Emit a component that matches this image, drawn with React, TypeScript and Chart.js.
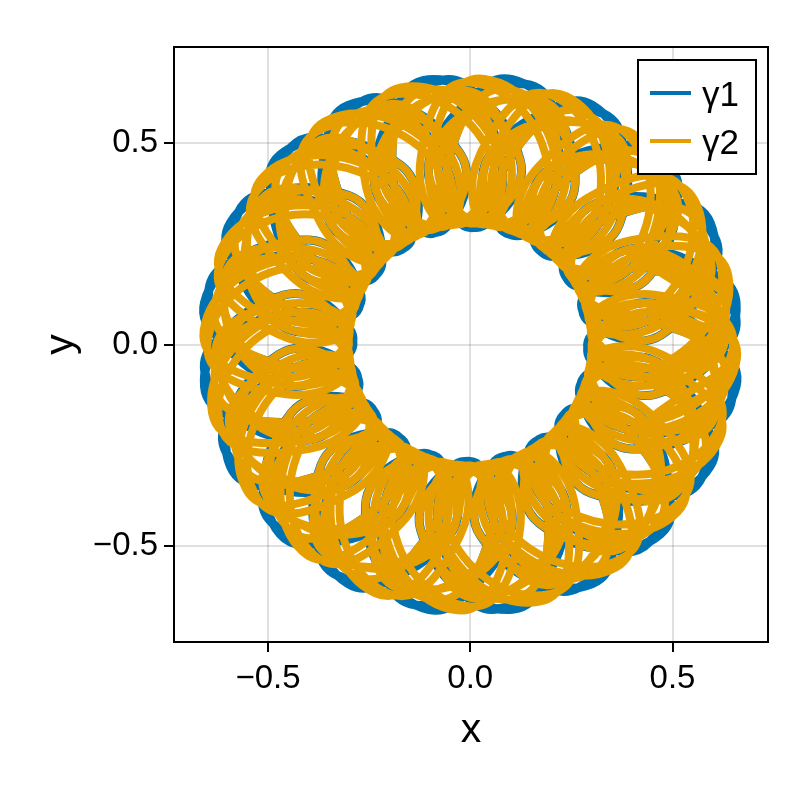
import React, { useEffect, useRef } from "react";
import { Chart, registerables } from "chart.js";

Chart.register(...registerables);

const tickValues = [-0.5, 0, 0.5];
const tickLabels = ["−0.5", "0.0", "0.5"];
const seriesNames = ["γ1", "γ2"];
const seriesColors = ["#0072b2", "#e69f00"];

const gamma1: any[][] = [
  [.459,-.123],
  [.657,.104],[.434,.193],[.276,.090],[.474,.025],[.593,.302],[.353,.318],[.235,.170],[.443,.170],
  [.470,.470],[.238,.411],[.170,.235],[.369,.299],[.302,.593],[.099,.465],[.090,.276],[.259,.398],
  [.104,.657],[-.050,.472],[0,.290],[.123,.459],[-.104,.657],[-.193,.434],[-.090,.276],[-.025,.474],
  [-.302,.593],[-.318,.353],[-.170,.235],[-.170,.443],[-.470,.470],[-.411,.238],[-.235,.170],[-.299,.369],
  [-.593,.302],[-.465,.099],[-.276,.090],[-.398,.259],[-.657,.104],[-.472,-.050],[-.290,0],[-.459,.123],
  [-.657,-.104],[-.434,-.193],[-.276,-.090],[-.474,-.025],[-.593,-.302],[-.353,-.318],[-.235,-.170],[-.443,-.170],
  [-.470,-.470],[-.238,-.411],[-.170,-.235],[-.369,-.299],[-.302,-.593],[-.099,-.465],[-.090,-.276],[-.259,-.398],
  [-.104,-.657],[.050,-.472],[0,-.290],[-.123,-.459],[.104,-.657],[.193,-.434],[.090,-.276],[.025,-.474],
  [.302,-.593],[.318,-.353],[.170,-.235],[.170,-.443],[.470,-.470],[.411,-.238],[.235,-.170],[.299,-.369],
  [.593,-.302],[.465,-.099],[.276,-.090],[.398,-.259],[.657,-.104],[.472,.050],[.290,0],[.459,-.123],
  [.657,.104],[.434,.193],[null,null],
  [.411,.238],
  [.656,.069],[.469,-.074],[.290,-.015],[.465,.099],[.646,-.137],[.423,-.216],[.271,-.104],[.472,-.050],
  [.572,-.330],[.336,-.336],[.225,-.182],[.434,-.193],[.442,-.490],[.216,-.423],[.158,-.243],[.353,-.318],
  [.268,-.603],[.074,-.469],[.075,-.280],[.238,-.411],[.069,-.656],[-.074,-.469],[-.015,-.290],[.099,-.465],
  [-.137,-.646],[-.216,-.423],[-.104,-.271],[-.050,-.472],[-.330,-.572],[-.336,-.336],[-.182,-.225],[-.193,-.434],
  [-.490,-.442],[-.423,-.216],[-.243,-.158],[-.318,-.353],[-.603,-.268],[-.469,-.074],[-.280,-.075],[-.411,-.238],
  [-.656,-.069],[-.469,.074],[-.290,.015],[-.465,-.099],[-.646,.137],[-.423,.216],[-.271,.104],[-.472,.050],
  [-.572,.330],[-.336,.336],[-.225,.182],[-.434,.193],[-.442,.490],[-.216,.423],[-.158,.243],[-.353,.318],
  [-.268,.603],[-.074,.469],[-.075,.280],[-.238,.411],[-.069,.656],[.074,.469],[.015,.290],[-.099,.465],
  [.137,.646],[.216,.423],[.104,.271],[.050,.472],[.330,.572],[.336,.336],[.182,.225],[.193,.434],
  [.490,.442],[.423,.216],[.243,.158],[.318,.353],[.603,.268],[.469,.074],[.280,.075],[.411,.238],
  [.656,.069],[.469,-.074],
];

const gamma2: any[][] = [
  [.434,-.193],
  [.650,0],[.459,.123],[.296,.047],[.472,-.050],[.618,.201],[.398,.259],[.267,.136],[.465,.099],
  [.526,.382],[.299,.369],[.212,.212],[.411,.238],[.382,.526],[.170,.443],[.136,.267],[.318,.353],
  [.201,.618],[.025,.474],[.047,.296],[.193,.434],[0,.650],[-.123,.459],[-.047,.296],[.050,.472],
  [-.201,.618],[-.259,.398],[-.136,.267],[-.099,.465],[-.382,.526],[-.369,.299],[-.212,.212],[-.238,.411],
  [-.526,.382],[-.443,.170],[-.267,.136],[-.353,.318],[-.618,.201],[-.474,.025],[-.296,.047],[-.434,.193],
  [-.650,0],[-.459,-.123],[-.296,-.047],[-.472,.050],[-.618,-.201],[-.398,-.259],[-.267,-.136],[-.465,-.099],
  [-.526,-.382],[-.299,-.369],[-.212,-.212],[-.411,-.238],[-.382,-.526],[-.170,-.443],[-.136,-.267],[-.318,-.353],
  [-.201,-.618],[-.025,-.474],[-.047,-.296],[-.193,-.434],[0,-.650],[.123,-.459],[.047,-.296],[-.050,-.472],
  [.201,-.618],[.259,-.398],[.136,-.267],[.099,-.465],[.382,-.526],[.369,-.299],[.212,-.212],[.238,-.411],
  [.526,-.382],[.443,-.170],[.267,-.136],[.353,-.318],[.618,-.201],[.474,-.025],[.296,-.047],[.434,-.193],
  [.650,0],[.459,.123],[null,null],
  [.423,.216],
  [.629,.033],[.465,-.099],[.298,-.031],[.469,.074],[.609,-.163],[.411,-.238],[.274,-.122],[.469,-.074],
  [.528,-.343],[.318,-.353],[.223,-.201],[.423,-.216],[.396,-.490],[.193,-.434],[.150,-.260],[.336,-.336],
  [.226,-.588],[.050,-.472],[.062,-.293],[.216,-.423],[.033,-.629],[-.099,-.465],[-.031,-.298],[.074,-.469],
  [-.163,-.609],[-.238,-.411],[-.122,-.274],[-.074,-.469],[-.343,-.528],[-.353,-.318],[-.201,-.223],[-.216,-.423],
  [-.490,-.396],[-.434,-.193],[-.260,-.150],[-.336,-.336],[-.588,-.226],[-.472,-.050],[-.293,-.062],[-.423,-.216],
  [-.629,-.033],[-.465,.099],[-.298,.031],[-.469,-.074],[-.609,.163],[-.411,.238],[-.274,.122],[-.469,.074],
  [-.528,.343],[-.318,.353],[-.223,.201],[-.423,.216],[-.396,.490],[-.193,.434],[-.150,.260],[-.336,.336],
  [-.226,.588],[-.050,.472],[-.062,.293],[-.216,.423],[-.033,.629],[.099,.465],[.031,.298],[-.074,.469],
  [.163,.609],[.238,.411],[.122,.274],[.074,.469],[.343,.528],[.353,.318],[.201,.223],[.216,.423],
  [.490,.396],[.434,.193],[.260,.150],[.336,.336],[.588,.226],[.472,.050],[.293,.062],[.423,.216],
  [.629,.033],[.465,-.099],[null,null],
  [.423,-.216],
  [.659,-.035],[.465,.099],[.298,.031],[.469,-.074],[.638,.171],[.411,.238],[.274,.122],[.469,.074],
  [.554,.359],[.318,.353],[.223,.201],[.423,.216],[.415,.513],[.193,.434],[.150,.260],[.336,.336],
  [.237,.616],[.050,.472],[.062,.293],[.216,.423],[.035,.659],[-.099,.465],[-.031,.298],[.074,.469],
  [-.171,.638],[-.238,.411],[-.122,.274],[-.074,.469],[-.359,.554],[-.353,.318],[-.201,.223],[-.216,.423],
  [-.513,.415],[-.434,.193],[-.260,.150],[-.336,.336],[-.616,.237],[-.472,.050],[-.293,.062],[-.423,.216],
  [-.659,.035],[-.465,-.099],[-.298,-.031],[-.469,.074],[-.638,-.171],[-.411,-.238],[-.274,-.122],[-.469,-.074],
  [-.554,-.359],[-.318,-.353],[-.223,-.201],[-.423,-.216],[-.415,-.513],[-.193,-.434],[-.150,-.260],[-.336,-.336],
  [-.237,-.616],[-.050,-.472],[-.062,-.293],[-.216,-.423],[-.035,-.659],[.099,-.465],[.031,-.298],[-.074,-.469],
  [.171,-.638],[.238,-.411],[.122,-.274],[.074,-.469],[.359,-.554],[.353,-.318],[.201,-.223],[.216,-.423],
  [.513,-.415],[.434,-.193],[.260,-.150],[.336,-.336],[.616,-.237],[.472,-.050],[.293,-.062],[.423,-.216],
  [.659,-.035],[.465,.099],[null,null],
  [.459,-.123],
  [.632,.100],[.434,.193],[.285,.093],[.474,.025],[.570,.291],[.353,.318],[.243,.176],[.443,.170],
  [.453,.453],[.238,.411],[.176,.243],[.369,.299],[.291,.570],[.099,.465],[.093,.285],[.259,.398],
  [.100,.632],[-.050,.472],[0,.300],[.123,.459],[-.100,.632],[-.193,.434],[-.093,.285],[-.025,.474],
  [-.291,.570],[-.318,.353],[-.176,.243],[-.170,.443],[-.453,.453],[-.411,.238],[-.243,.176],[-.299,.369],
  [-.570,.291],[-.465,.099],[-.285,.093],[-.398,.259],[-.632,.100],[-.472,-.050],[-.300,0],[-.459,.123],
  [-.632,-.100],[-.434,-.193],[-.285,-.093],[-.474,-.025],[-.570,-.291],[-.353,-.318],[-.243,-.176],[-.443,-.170],
  [-.453,-.453],[-.238,-.411],[-.176,-.243],[-.369,-.299],[-.291,-.570],[-.099,-.465],[-.093,-.285],[-.259,-.398],
  [-.100,-.632],[.050,-.472],[0,-.300],[-.123,-.459],[.100,-.632],[.193,-.434],[.093,-.285],[.025,-.474],
  [.291,-.570],[.318,-.353],[.176,-.243],[.170,-.443],[.453,-.453],[.411,-.238],[.243,-.176],[.299,-.369],
  [.570,-.291],[.465,-.099],[.285,-.093],[.398,-.259],[.632,-.100],[.472,.050],[.300,0],[.459,-.123],
  [.632,.100],[.434,.193],[null,null],
  [.411,.238],
  [.617,.065],[.469,-.074],[.300,-.016],[.465,.099],[.606,-.129],[.423,-.216],[.280,-.108],[.472,-.050],
  [.537,-.310],[.336,-.336],[.233,-.189],[.434,-.193],[.415,-.461],[.216,-.423],[.163,-.252],[.353,-.318],
  [.252,-.566],[.074,-.469],[.078,-.290],[.238,-.411],[.065,-.617],[-.074,-.469],[-.016,-.300],[.099,-.465],
  [-.129,-.606],[-.216,-.423],[-.108,-.280],[-.050,-.472],[-.310,-.537],[-.336,-.336],[-.189,-.233],[-.193,-.434],
  [-.461,-.415],[-.423,-.216],[-.252,-.163],[-.318,-.353],[-.566,-.252],[-.469,-.074],[-.290,-.078],[-.411,-.238],
  [-.617,-.065],[-.469,.074],[-.300,.016],[-.465,-.099],[-.606,.129],[-.423,.216],[-.280,.108],[-.472,.050],
  [-.537,.310],[-.336,.336],[-.233,.189],[-.434,.193],[-.415,.461],[-.216,.423],[-.163,.252],[-.353,.318],
  [-.252,.566],[-.074,.469],[-.078,.290],[-.238,.411],[-.065,.617],[.074,.469],[.016,.300],[-.099,.465],
  [.129,.606],[.216,.423],[.108,.280],[.050,.472],[.310,.537],[.336,.336],[.189,.233],[.193,.434],
  [.461,.415],[.423,.216],[.252,.163],[.318,.353],[.566,.252],[.469,.074],[.290,.078],[.411,.238],
  [.617,.065],[.469,-.074],
];

const toPoints = (pairs: any[][]) => pairs.map(([x, y]) => ({ x, y }));

const frameAndLegend = {
  id: "frameAndLegend",
  afterDatasetsDraw(chart: any) {
    const { ctx, chartArea: a } = chart;
    ctx.save();
    ctx.strokeStyle = "#000";
    ctx.lineWidth = 2;
    ctx.strokeRect(a.left, a.top, a.right - a.left, a.bottom - a.top);
    ctx.fillStyle = "#fff";
    ctx.fillRect(638, 60, 118, 114);
    ctx.strokeRect(638, 60, 118, 114);
    chart.data.datasets.forEach((d: any, i: number) => {
      const y = 93 + i * 48;
      ctx.strokeStyle = d.borderColor;
      ctx.lineWidth = 4;
      ctx.beginPath();
      ctx.moveTo(650, y);
      ctx.lineTo(691, y);
      ctx.stroke();
      ctx.fillStyle = "#000";
      ctx.font = '35px "Liberation Sans"';
      ctx.textAlign = "left";
      ctx.textBaseline = "alphabetic";
      ctx.fillText(d.label, 702, y + 13);
    });
    ctx.restore();
  },
};

const setTicks = (scale: any) => {
  scale.ticks = tickValues.map((value) => ({ value }));
};

const axisBase = {
  type: "linear" as const,
  afterBuildTicks: setTicks,
  grid: {
    color: "rgba(0,0,0,0.12)",
    lineWidth: 2,
    drawTicks: true,
    tickColor: "#000",
    tickLength: 10,
    tickWidth: 2,
  },
  border: { color: "#000", width: 2 },
};

export default function App() {
  const ref = useRef<HTMLCanvasElement>(null);
  useEffect(() => {
    const chart = new Chart(ref.current as HTMLCanvasElement, {
      type: "scatter",
      data: {
        datasets: [gamma1, gamma2].map((pairs, i) => ({
          label: seriesNames[i],
          data: toPoints(pairs),
          showLine: true,
          spanGaps: false,
          borderColor: seriesColors[i],
          backgroundColor: seriesColors[i],
          borderWidth: i === 0 ? 9 : 8,
          order: 2 - i,
          pointRadius: 0,
          tension: 0.55,
          borderJoinStyle: "round" as const,
          borderCapStyle: "round" as const,
        })),
      },
      options: {
        responsive: false,
        animation: false,
        layout: { padding: { top: 47, right: 32, left: 0, bottom: 0 } },
        plugins: { legend: { display: false }, tooltip: { enabled: false }, title: { display: false } },
        scales: {
          x: {
            ...axisBase,
            min: -0.7324,
            max: 0.736,
            afterFit: (s: any) => {
              s.height = 158;
            },
            title: {
              display: true,
              text: "x",
              color: "#000",
              font: { family: "Liberation Sans", size: 41 },
              padding: { top: 0, bottom: 45 },
            },
            ticks: {
              color: "#000",
              font: { family: "Liberation Sans", size: 33 },
              padding: 7,
              maxRotation: 0,
              callback: (v: any) => tickLabels[tickValues.indexOf(v)],
            },
          },
          y: {
            ...axisBase,
            min: -0.738,
            max: 0.738,
            afterFit: (s: any) => {
              s.width = 174;
            },
            title: {
              display: true,
              text: "y",
              color: "#000",
              font: { family: "Liberation Sans", size: 41 },
              padding: { top: 37, bottom: 0 },
            },
            ticks: {
              color: "#000",
              font: { family: "Liberation Sans", size: 33 },
              padding: 6,
              callback: (v: any) => tickLabels[tickValues.indexOf(v)],
            },
          },
        },
      },
      plugins: [frameAndLegend],
    });
    return () => chart.destroy();
  }, []);
  return (
    <canvas
      ref={ref}
      width={800}
      height={800}
      style={{ position: "absolute", left: 0, top: 0, display: "block" }}
    />
  );
}
